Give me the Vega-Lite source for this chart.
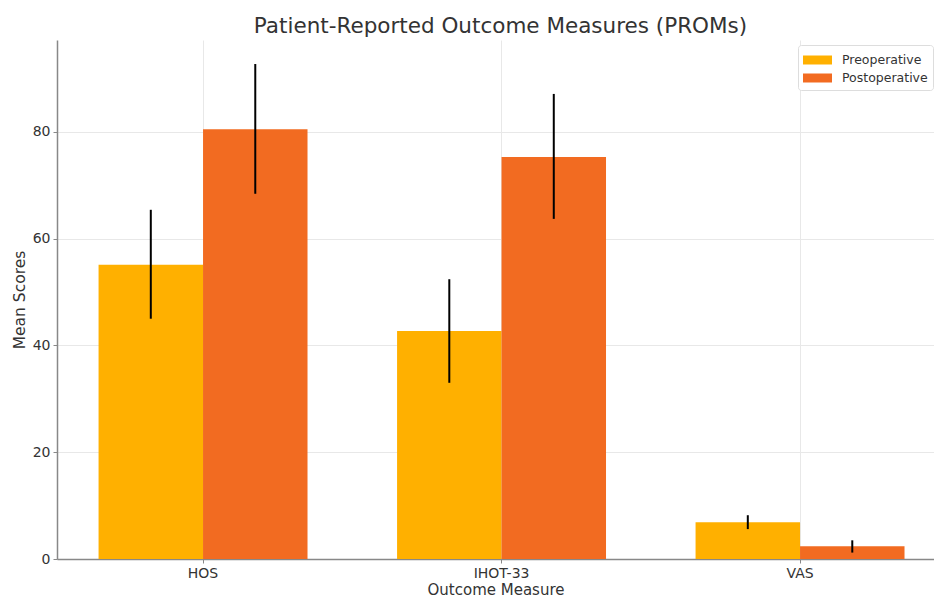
{
  "$schema": "https://vega.github.io/schema/vega-lite/v6.json",
  "width": 877,
  "height": 519,
  "autosize": {"type": "none"},
  "padding": {"left": 57, "top": 40, "right": 0, "bottom": 41},
  "background": "white",
  "config": {"view": {"stroke": null}, "font": "DejaVu Sans"},
  "title": {"text": "Patient-Reported Outcome Measures (PROMs)", "fontSize": 21.5, "fontWeight": "normal", "color": "#333333", "dx": 5, "offset": 3},
  "data": {"values": [
    {"measure": "HOS", "phase": "Preoperative", "mean": 55.1, "low": 45.0, "high": 65.4},
    {"measure": "HOS", "phase": "Postoperative", "mean": 80.5, "low": 68.4, "high": 92.7},
    {"measure": "IHOT-33", "phase": "Preoperative", "mean": 42.7, "low": 33.0, "high": 52.4},
    {"measure": "IHOT-33", "phase": "Postoperative", "mean": 75.3, "low": 63.7, "high": 87.1},
    {"measure": "VAS", "phase": "Preoperative", "mean": 6.9, "low": 5.6, "high": 8.2},
    {"measure": "VAS", "phase": "Postoperative", "mean": 2.4, "low": 1.2, "high": 3.5}
  ]},
  "encoding": {
    "x": {"field": "measure", "type": "nominal", "sort": ["HOS", "IHOT-33", "VAS"],
      "scale": {"paddingInner": 0.3, "paddingOuter": 0.119, "align": 0.585},
      "axis": {"title": "Outcome Measure", "labelAngle": 0, "bandPosition": 0.5, "grid": true, "gridColor": "#e8e8e8", "gridWidth": 1,
        "domainColor": "#888888", "domainWidth": 1.5, "tickColor": "#888888", "tickSize": 4, "labelFontSize": 14, "labelColor": "#333333", "labelPadding": 3,
        "titleFontSize": 15, "titleFontWeight": "normal", "titleColor": "#333333", "titlePadding": 2}},
    "xOffset": {"field": "phase", "type": "nominal", "sort": ["Preoperative", "Postoperative"], "scale": {"paddingInner": 0, "paddingOuter": 0}}
  },
  "layer": [
    {
      "mark": {"type": "bar"},
      "encoding": {
        "y": {"field": "mean", "type": "quantitative", "scale": {"domain": [0, 97.2], "nice": false},
          "axis": {"title": "Mean Scores", "values": [0, 20, 40, 60, 80], "grid": true, "gridColor": "#e8e8e8", "gridWidth": 1,
            "domainColor": "#888888", "domainWidth": 1.5, "tickColor": "#888888", "tickSize": 4, "labelFontSize": 14, "labelColor": "#333333", "labelPadding": 3,
            "titleFontSize": 15.5, "titleFontWeight": "normal", "titleColor": "#333333", "titlePadding": 5}},
        "color": {"field": "phase", "type": "nominal", "sort": ["Preoperative", "Postoperative"],
          "scale": {"domain": ["Preoperative", "Postoperative"], "range": ["#FFB000", "#F26B21"]},
          "legend": {"title": null, "orient": "none", "legendX": 741, "legendY": 5,
            "symbolType": "M-1,-0.45H1.9V0.45H-1Z", "symbolSize": 400, "symbolStrokeWidth": 0,
            "labelFontSize": 12.5, "labelColor": "#333333", "labelOffset": 19, "rowPadding": 1, "padding": 5,
            "fillColor": "white", "strokeColor": "#dddddd", "cornerRadius": 3}}
      }
    },
    {
      "mark": {"type": "rule", "color": "black", "strokeWidth": 2},
      "encoding": {
        "y": {"field": "low", "type": "quantitative"},
        "y2": {"field": "high"}
      }
    }
  ]
}
